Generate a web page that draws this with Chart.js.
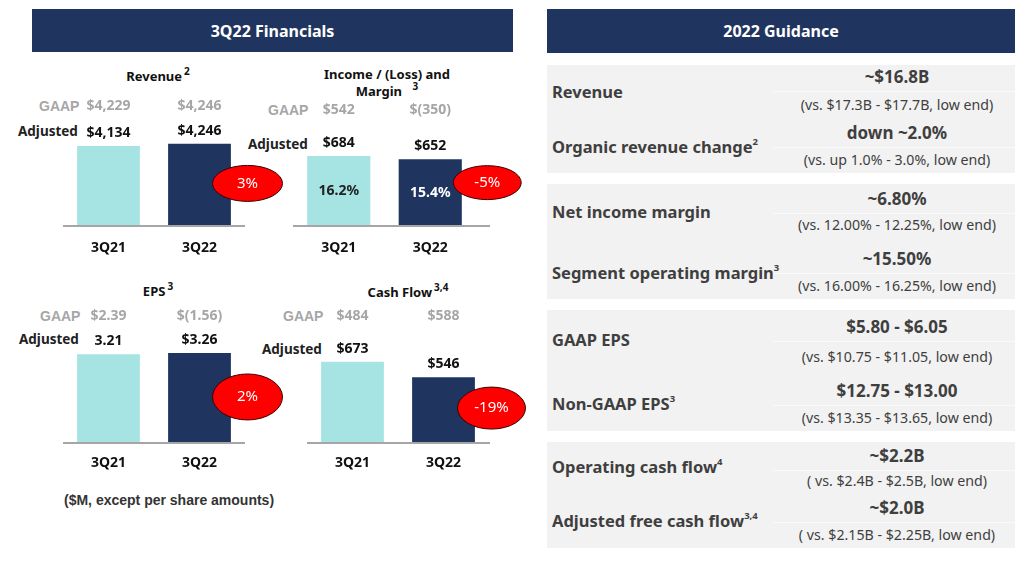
<!DOCTYPE html>
<html>
<head>
<meta charset="utf-8">
<script src="https://cdn.jsdelivr.net/npm/chart.js@4.4.0/dist/chart.umd.min.js"></script>
<style>
  body { margin: 0; width: 1030px; height: 562px; background: #fff; position: relative; overflow: hidden; font-family: "Noto Sans", sans-serif; }
  .abs { position: absolute; white-space: nowrap; }
  .hdr { position: absolute; background: #1F3560; color: #fff; font-weight: bold; font-size: 16px; display: flex; align-items: center; justify-content: center; }
  .ttl { position: absolute; font-weight: bold; font-size: 13px; color: #111; text-align: center; line-height: 17px; }
  .ttl sup { font-size: 10px; vertical-align: 6px; line-height: 0; margin-left: 2px; }
  .gaap { position: absolute; font-family: "Liberation Sans", Arial, sans-serif; font-weight: bold; font-size: 14px; color: #A6A6A6; line-height: 18px; }
  .adj { position: absolute; font-weight: bold; font-size: 13.5px; color: #222; line-height: 18px; }
  canvas { position: absolute; }
  .panel { position: absolute; left: 547px; width: 468px; background: #F2F2F2; }
  .rl { position: absolute; left: 552px; font-weight: bold; font-size: 16.5px; color: #3F3F3F; line-height: 20px; white-space: nowrap; }
  .rl sup { font-size: 9.5px; vertical-align: 8px; line-height: 0; }
  .rv { position: absolute; left: 780px; width: 234px; text-align: center; font-weight: bold; font-size: 17px; color: #3F3F3F; line-height: 20px; }
  .rs { position: absolute; left: 765px; width: 264px; text-align: center; font-size: 14.2px; color: #3F3F3F; line-height: 18px; white-space: nowrap; }
  .sep { position: absolute; left: 773px; width: 242px; height: 1px; background: #FAFAFA; }
</style>
</head>
<body>
<div class="hdr" style="left:32px;top:9px;width:481px;height:43px;">3Q22 Financials</div>
<div class="hdr" style="left:547px;top:9px;width:468px;height:44px;">2022 Guidance</div>

<div class="ttl" style="left:58px;top:68px;width:200px;">Revenue<sup>2</sup></div>
<div class="ttl" style="left:287px;top:66px;width:200px;">Income / (Loss) and<br>Margin <sup>&nbsp;&nbsp;3</sup></div>
<div class="ttl" style="left:58px;top:283px;width:200px;">EPS<sup>3</sup></div>
<div class="ttl" style="left:308px;top:284px;width:200px;">Cash Flow<sup>3,4</sup></div>

<div class="gaap" style="left:39px;top:97px;">GAAP</div>
<div class="adj" style="left:18px;top:122px;">Adjusted</div>
<div class="gaap" style="left:268px;top:101px;">GAAP</div>
<div class="adj" style="left:248px;top:135px;">Adjusted</div>
<div class="gaap" style="left:40px;top:307px;">GAAP</div>
<div class="adj" style="left:19px;top:330px;">Adjusted</div>
<div class="gaap" style="left:283px;top:307px;">GAAP</div>
<div class="adj" style="left:262px;top:340px;">Adjusted</div>

<div class="abs" style="left:64px;top:492px;font-family:'Liberation Sans',Arial,sans-serif;font-weight:bold;font-size:14px;color:#333;">($M, except per share amounts)</div>

<canvas id="c1" width="290" height="200" style="left:0px;top:60px;"></canvas>
<canvas id="c2" width="280" height="200" style="left:250px;top:60px;"></canvas>
<canvas id="c3" width="290" height="200" style="left:0px;top:277px;"></canvas>
<canvas id="c4" width="280" height="200" style="left:250px;top:277px;"></canvas>

<div id="guide"></div>

<script>
// ---- data ----
var quarters = ['3Q21', '3Q22'];

var revenueAdj = [4134, 4246];
var revenueAdjText = ['$4,134', '$4,246'];
var revenueGaapText = ['$4,229', '$4,246'];
var revenueChange = '3%';

var incomeAdj = [684, 652];
var incomeAdjText = ['$684', '$652'];
var incomeGaapText = ['$542', '$(350)'];
var incomeMargin = ['16.2%', '15.4%'];
var incomeChange = '-5%';

var epsAdj = [3.21, 3.26];
var epsAdjText = ['3.21', '$3.26'];
var epsGaapText = ['$2.39', '$(1.56)'];
var epsChange = '2%';

var cashAdj = [673, 546];
var cashAdjText = ['$673', '$546'];
var cashGaapText = ['$484', '$588'];
var cashChange = '-19%';

var guideLabels = ['Revenue', 'Organic revenue change', 'Net income margin', 'Segment operating margin',
  'GAAP EPS', 'Non-GAAP EPS', 'Operating cash flow', 'Adjusted free cash flow'];
var guideSups = ['', '2', '', '3', '', '3', '4', '3,4'];
var guideValues = ['~$16.8B', 'down ~2.0%', '~6.80%', '~15.50%', '$5.80 - $6.05', '$12.75 - $13.00', '~$2.2B', '~$2.0B'];
var guidePrior = ['(vs. $17.3B - $17.7B, low end)', '(vs. up 1.0% - 3.0%, low end)', '(vs. 12.00% - 12.25%, low end)',
  '(vs. 16.00% - 16.25%, low end)', '(vs. $10.75 - $11.05, low end)', '(vs. $13.35 - $13.65, low end)',
  '( vs. $2.4B - $2.5B, low end)', '( vs. $2.15B - $2.25B, low end)'];

// ---- guidance table layout ----
var panelTop = [65, 184, 310, 442];
var panelH = [108, 115, 121, 106];
var labelY = [92, 147, 212, 273, 340, 404, 467, 521];
var valueY = [77, 133, 199, 259, 327, 391, 456, 508];
var priorY = [105, 160, 225, 286, 357, 418, 481, 535];

var g = document.getElementById('guide');
var html = '';
panelTop.forEach(function (t, i) {
  html += '<div class="panel" style="top:' + t + 'px;height:' + panelH[i] + 'px"></div>';
});
guideLabels.forEach(function (l, i) {
  html += '<div class="rl" style="top:' + (labelY[i] - 10) + 'px">' + l + (guideSups[i] ? '<sup>' + guideSups[i] + '</sup>' : '') + '</div>';
  html += '<div class="sep" style="top:' + (valueY[i] + 14) + 'px"></div>';
  html += '<div class="rv" style="top:' + (valueY[i] - 10) + 'px">' + guideValues[i] + '</div>';
  html += '<div class="rs" style="top:' + (priorY[i] - 9) + 'px">' + guidePrior[i] + '</div>';
});
g.innerHTML = html;

// ---- charts ----
var light = '#A6E3E3';
var navy = '#1F3560';

var decor = {
  id: 'decor',
  afterDatasetsDraw: function (chart, args, o) {
    var ctx = chart.ctx, area = chart.chartArea;
    var bars = chart.getDatasetMeta(0).data;
    ctx.save();
    ctx.strokeStyle = '#A6A6A6';
    ctx.lineWidth = 2;
    ctx.beginPath();
    ctx.moveTo(area.left, area.bottom);
    ctx.lineTo(area.right + (o.axisExtra || 0), area.bottom);
    ctx.stroke();

    ctx.textAlign = 'center';
    ctx.textBaseline = 'middle';
    bars.forEach(function (bar, i) {
      ctx.font = 'bold 14px "Noto Sans"';
      ctx.fillStyle = '#111';
      ctx.fillText(chart.data.labels[i], bar.x, area.bottom + o.catGap);
      ctx.fillText(o.adjusted[i], bar.x, bar.y - 13);
      ctx.fillStyle = '#A6A6A6';
      ctx.fillText(o.gaap[i], bar.x, o.gaapY);
      if (o.inside) {
        ctx.fillStyle = i === 0 ? '#222' : '#fff';
        ctx.fillText(o.inside[i], bar.x, (bar.y + bar.base) / 2);
      }
    });

    var b = bars[1];
    var cx = b.x + o.ell.dx, cy = (b.y + b.base) / 2 + o.ell.dy;
    ctx.beginPath();
    ctx.ellipse(cx, cy, o.ell.rx, o.ell.ry, 0, 0, Math.PI * 2);
    ctx.fillStyle = '#FF0000';
    ctx.fill();
    ctx.lineWidth = 1;
    ctx.strokeStyle = '#3a0000';
    ctx.stroke();
    ctx.fillStyle = '#fff';
    ctx.font = '15px "Noto Sans"';
    ctx.fillText(o.change, cx, cy);
    ctx.restore();
  }
};

function makeChart(id, values, max, pad, opts) {
  return new Chart(document.getElementById(id), {
    type: 'bar',
    data: {
      labels: quarters,
      datasets: [{
        data: values,
        backgroundColor: [light, navy],
        barPercentage: 1,
        categoryPercentage: 0.69
      }]
    },
    options: {
      responsive: false,
      animation: false,
      layout: { padding: pad },
      plugins: { legend: { display: false }, tooltip: { enabled: false }, decor: opts },
      scales: {
        x: { display: false },
        y: { display: false, min: 0, max: max }
      }
    },
    plugins: [decor]
  });
}

makeChart('c1', revenueAdj, 6511, { left: 63, right: 45, top: 40, bottom: 34 }, {
  adjusted: revenueAdjText, gaap: revenueGaapText, gaapY: 46, catGap: 22,
  change: revenueChange, ell: { dx: 48, dy: -1.5, rx: 35, ry: 18 }
});
makeChart('c2', incomeAdj, 1231, { left: 43, right: 54, top: 40, bottom: 34 }, {
  adjusted: incomeAdjText, gaap: incomeGaapText, gaapY: 50, catGap: 22, axisExtra: 14,
  inside: incomeMargin, change: incomeChange, ell: { dx: 57, dy: -10, rx: 34, ry: 17 }
});
makeChart('c3', epsAdj, 4.56, { left: 63, right: 45, top: 40, bottom: 34 }, {
  adjusted: epsAdjText, gaap: epsGaapText, gaapY: 39, catGap: 20,
  change: epsChange, ell: { dx: 48, dy: -1, rx: 35, ry: 23 }
});
makeChart('c4', cashAdj, 1045, { left: 57, right: 41, top: 40, bottom: 34 }, {
  adjusted: cashAdjText, gaap: cashGaapText, gaapY: 39, catGap: 20, axisExtra: 1,
  change: cashChange, ell: { dx: 48, dy: -2, rx: 34, ry: 21 }
});
</script>
</body>
</html>
